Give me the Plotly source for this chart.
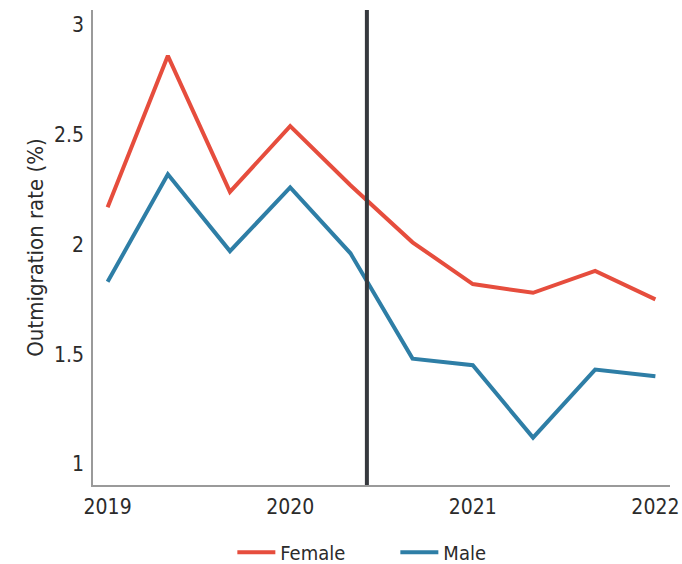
import plotly.graph_objects as go

# Data (4-month intervals)
periods = [2019.0, 2019.33, 2019.67, 2020.0, 2020.33, 2020.67, 2021.0, 2021.33, 2021.67, 2022.0]
female_rate = [2.17, 2.86, 2.24, 2.54, 2.27, 2.01, 1.82, 1.78, 1.88, 1.75]
male_rate = [1.83, 2.32, 1.97, 2.26, 1.96, 1.48, 1.45, 1.12, 1.43, 1.40]
marker_x = 2020.42  # vertical reference line

year_ticks = [2019, 2020, 2021, 2022]
rate_ticks = [1, 1.5, 2, 2.5, 3]

font_name = "DejaVu Sans Condensed, sans-serif"
text_color = "#2b2b2b"

fig = go.Figure()
fig.add_trace(go.Scatter(x=periods, y=female_rate, mode="lines", name="Female",
                         line=dict(color="#e64d3d", width=4)))
fig.add_trace(go.Scatter(x=periods, y=male_rate, mode="lines", name="Male",
                         line=dict(color="#2e7ea6", width=4)))

# vertical marker line
fig.add_shape(type="line", x0=marker_x, x1=marker_x, xref="x",
              y0=0, y1=1, yref="paper",
              line=dict(color="#36393e", width=4))

fig.update_layout(
    width=682, height=564,
    margin=dict(l=93, r=12, t=10, b=79, autoexpand=False),
    plot_bgcolor="white", paper_bgcolor="white",
    font=dict(family=font_name, size=20, color=text_color),
    showlegend=True,
    legend=dict(orientation="h", x=0.524, xanchor="center",
                yref="container", y=0.021, yanchor="middle",
                font=dict(size=20), entrywidth=110, itemwidth=38),
)
fig.update_xaxes(range=[2018.92, 2022.08], tickvals=year_ticks,
                 ticktext=[str(t) for t in year_ticks],
                 showgrid=False, zeroline=False, showline=True, automargin=False,
                 linecolor="#9a9a9a", linewidth=1.5, ticks="", ticklabelstandoff=2,
                 tickfont=dict(size=21))
fig.update_yaxes(range=[0.904, 3.069], tickvals=rate_ticks,
                 ticktext=["1", "1.5", "2", "2.5", "3"],
                 showgrid=False, zeroline=False, showline=True, automargin=False,
                 linecolor="#9a9a9a", linewidth=1.5, ticks="", ticklabelstandoff=3,
                 tickfont=dict(size=21),
                 title=dict(text="Outmigration rate (%)", standoff=4, font=dict(size=22)))

# drop the page's default body margin so the figure sits at the window corner
fig.write_html("out.html", config={"displayModeBar": False},
               post_script="document.body.style.margin='0';")
